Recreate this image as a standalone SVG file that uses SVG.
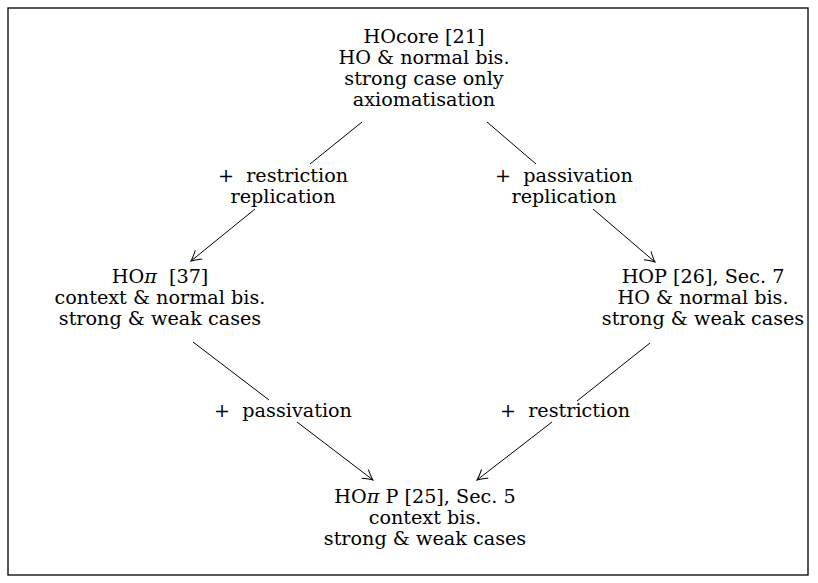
<svg xmlns="http://www.w3.org/2000/svg" width="818" height="583" viewBox="0 0 818 583">
<defs>
<style>
text{font-family:"DejaVu Serif","Liberation Serif",serif;font-size:19.2px;fill:#000;text-anchor:middle;white-space:pre}
.pi{font-style:italic}
.edge{fill:none;stroke:#000;stroke-width:1}
.frame{fill:#fff;stroke:#000;stroke-width:1.3}
</style>
<marker id="arr" viewBox="-12 -7 14 14" markerWidth="14" markerHeight="14" refX="0" refY="0" orient="auto" markerUnits="userSpaceOnUse">
<path d="M-10,-5.5 Q-3.5,-1.3 0,0 Q-3.5,1.3 -10,5.5" fill="none" stroke="#000" stroke-width="1"/>
</marker>
</defs>
<rect class="frame" x="8" y="8" width="800" height="567"/>
<g id="connectors">
<path class="edge" d="M362,122 L310,164 M255,209 L191,261" marker-end="url(#arr)"/>
<path class="edge" d="M487,122 L536,164 M593,209 L655,262" marker-end="url(#arr)"/>
<path class="edge" d="M193,342 L269,400 M297,422 L373,480" marker-end="url(#arr)"/>
<path class="edge" d="M650,343 L577,401 M552,422 L477,480" marker-end="url(#arr)"/>
</g>
<g id="labels">
<text x="283" y="182">+  restriction</text>
<text x="283" y="203">replication</text>
<text x="564" y="182">+  passivation</text>
<text x="564" y="203">replication</text>
<text x="283" y="417">+  passivation</text>
<text x="565" y="417">+  restriction</text>
</g>
<g id="node-hocore">
<text x="424" y="43">HOcore [21]</text>
<text x="424" y="64">HO &amp; normal bis.</text>
<text x="424" y="85">strong case only</text>
<text x="424" y="106">axiomatisation</text>
</g>
<g id="node-hopi">
<text x="160" y="283">HO<tspan class="pi">π</tspan>  [37]</text>
<text x="160" y="304">context &amp; normal bis.</text>
<text x="160" y="325">strong &amp; weak cases</text>
</g>
<g id="node-hop">
<text x="703" y="283">HOP [26], Sec. 7</text>
<text x="703" y="304">HO &amp; normal bis.</text>
<text x="703" y="325">strong &amp; weak cases</text>
</g>
<g id="node-hopip">
<text x="425" y="503">HO<tspan class="pi">π</tspan> P [25], Sec. 5</text>
<text x="425" y="524">context bis.</text>
<text x="425" y="545">strong &amp; weak cases</text>
</g>
</svg>
